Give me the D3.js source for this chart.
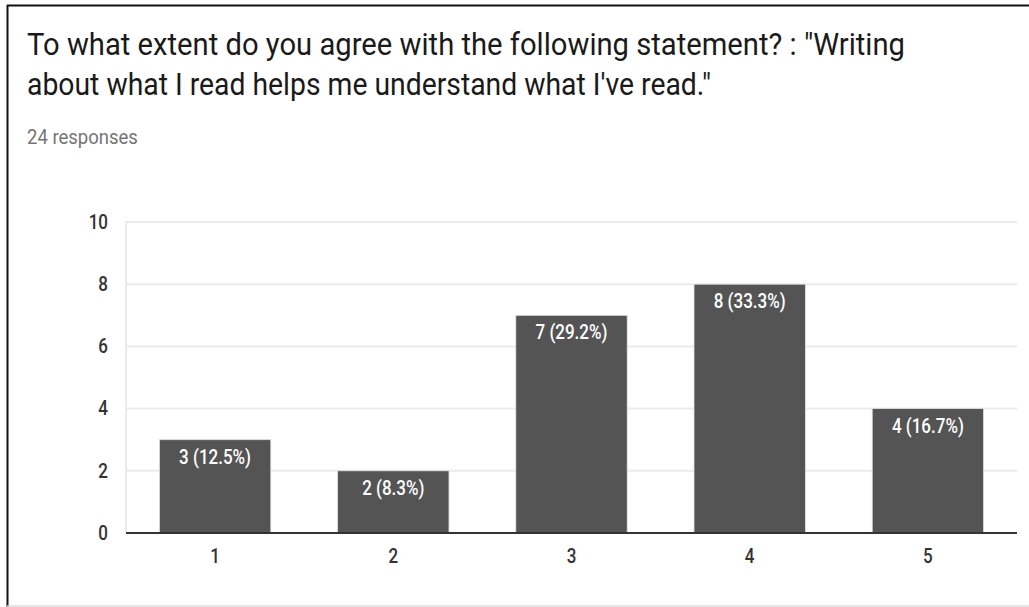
<!DOCTYPE html>
<html>
<head>
<meta charset="utf-8">
<script src="https://cdn.jsdelivr.net/npm/d3@7"></script>
<style>
  html, body { margin: 0; padding: 0; background: #fff; }
  svg { display: block; }
</style>
</head>
<body>
<svg id="chart" width="1029" height="607"></svg>
<script>
const titleLines = [
  "To what extent do you agree with the following statement? : \"Writing",
  "about what I read helps me understand what I've read.\""
];
const subtitle = "24 responses";
const categories = ["1", "2", "3", "4", "5"];
const values = [3, 2, 7, 8, 4];
const valueLabels = ["3 (12.5%)", "2 (8.3%)", "7 (29.2%)", "8 (33.3%)", "4 (16.7%)"];
const yTicks = [0, 2, 4, 6, 8, 10];

const svg = d3.select("#chart");
const W = 1029, H = 607;

// render text taller/narrower like the reference (vertical stretch)
function stretch(sel, factor) {
  sel.each(function () {
    const t = d3.select(this);
    const w = this.getComputedTextLength();
    const fs = parseFloat(t.attr("font-size"));
    t.attr("font-size", fs * factor)
     .attr("textLength", w)
     .attr("lengthAdjust", "spacingAndGlyphs");
  });
}

// frame
svg.append("line").attr("x1", 7).attr("x2", W).attr("y1", 5.5).attr("y2", 5.5)
  .attr("stroke", "#111").attr("stroke-width", 2);
svg.append("line").attr("x1", 7.5).attr("x2", 7.5).attr("y1", 5).attr("y2", H)
  .attr("stroke", "#111").attr("stroke-width", 2);
svg.append("line").attr("x1", 7).attr("x2", W).attr("y1", 606).attr("y2", 606)
  .attr("stroke", "#ddd").attr("stroke-width", 1.5);

// title
const font = "Roboto, 'Liberation Sans', Arial, sans-serif";
const titleWidths = [878, 684];
svg.selectAll("text.title").data(titleLines).join("text")
  .attr("class", "title")
  .attr("x", 27)
  .attr("y", (d, i) => 55 + i * 40)
  .attr("font-family", font)
  .attr("font-size", 31)
  .attr("fill", "#1a1a1a")
  .attr("textLength", (d, i) => titleWidths[i])
  .attr("lengthAdjust", "spacingAndGlyphs")
  .text(d => d);

svg.append("text")
  .attr("x", 27).attr("y", 144)
  .attr("font-family", font)
  .attr("font-size", 18.5)
  .attr("fill", "#757575")
  .text(subtitle)
  .call(stretch, 1.12);

// scales
const x = d3.scaleBand().domain(categories).range([126, 1017])
  .paddingInner(0.375).paddingOuter(0.1875);
const y = d3.scaleLinear().domain([0, 10]).range([533, 222]);

// gridlines
svg.append("g").selectAll("line").data(yTicks.filter(t => t > 0)).join("line")
  .attr("x1", 126).attr("x2", 1017)
  .attr("y1", d => y(d)).attr("y2", d => y(d))
  .attr("stroke", "#ebebeb").attr("stroke-width", 2);
svg.append("line").attr("x1", 126).attr("x2", 126).attr("y1", y(10) - 1).attr("y2", y(0))
  .attr("stroke", "#ebebeb").attr("stroke-width", 2);

// y axis labels
const yAxis = d3.axisLeft(y).tickValues(yTicks).tickSize(0).tickPadding(18);
const gy = svg.append("g").attr("transform", "translate(126,0)").call(yAxis);
gy.select(".domain").remove();
gy.selectAll("text").attr("font-family", font).attr("font-size", 17)
  .attr("font-weight", 500).attr("fill", "#333").call(stretch, 1.15);

// bars
svg.append("g").selectAll("rect").data(values).join("rect")
  .attr("x", (d, i) => x(categories[i]))
  .attr("y", d => y(d))
  .attr("width", x.bandwidth())
  .attr("height", d => y(0) - y(d))
  .attr("fill", "#545454")
  .attr("stroke", "#e0e0e0")
  .attr("stroke-width", 0.8);

// value labels
svg.append("g").selectAll("text").data(values).join("text")
  .attr("x", (d, i) => x(categories[i]) + x.bandwidth() / 2)
  .attr("y", d => y(d) + 24)
  .attr("text-anchor", "middle")
  .attr("font-family", font)
  .attr("font-size", 17)
  .attr("font-weight", 500)
  .attr("fill", "#ffffff")
  .text((d, i) => valueLabels[i])
  .call(stretch, 1.15);

// x axis
const xAxis = d3.axisBottom(x).tickSize(0).tickPadding(16);
const gx = svg.append("g").attr("transform", `translate(0,${y(0)})`).call(xAxis);
gx.select(".domain").attr("stroke", "#333").attr("stroke-width", 2)
  .attr("d", "M126,0H1017");
gx.selectAll("text").attr("font-family", font).attr("font-size", 17)
  .attr("font-weight", 500).attr("fill", "#333").call(stretch, 1.15);
</script>
</body>
</html>
